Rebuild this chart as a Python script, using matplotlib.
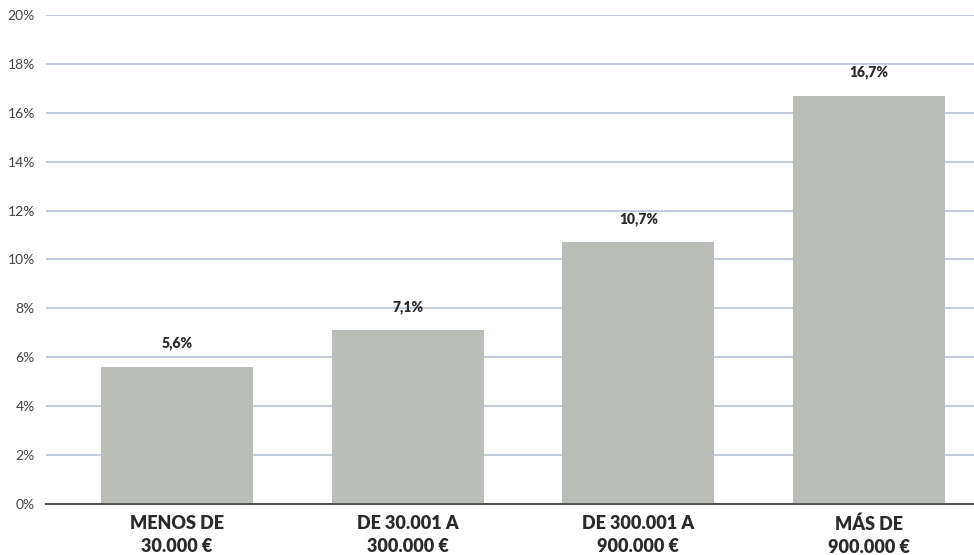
import matplotlib.pyplot as plt

categories = ["MENOS DE\n30.000 €", "DE 30.001 A\n300.000 €", "DE 300.001 A\n900.000 €", "MÁS DE\n900.000 €"]
values = [5.6, 7.1, 10.7, 16.7]
value_labels = ["5,6%", "7,1%", "10,7%", "16,7%"]
yticks = [0, 2, 4, 6, 8, 10, 12, 14, 16, 18, 20]

plt.rcParams["font.family"] = ["Lato", "DejaVu Sans"]

fig = plt.figure(figsize=(9.74, 5.55), dpi=100)
ax = fig.add_axes([0.0472, 0.0919, 0.9528, 0.8811])

x = list(range(len(categories)))
ax.bar(x, values, width=0.66, color="#b9bfb7", zorder=2)

for xi, v, lab in zip(x, values, value_labels):
    ax.annotate(lab, (xi, v), xytext=(0, 12), textcoords="offset points",
                ha="center", va="bottom", fontsize=10, fontweight="heavy", color="#2b2b2b")

ax.set_xlim(-0.568, 3.455)
ax.set_ylim(0, 20)
ax.set_yticks(yticks)
ax.set_yticklabels([f"{t}%" for t in yticks])
ax.set_xticks(x)
ax.set_xticklabels(categories, fontsize=13, fontweight="heavy", color="#2b2b2b", linespacing=1.45)

ax.grid(axis="y", color="#b8c3d5", linewidth=1.2, zorder=0)
ax.set_axisbelow(True)
for s in ("top", "right", "left"):
    ax.spines[s].set_visible(False)
ax.spines["bottom"].set_color("#555555")
ax.spines["bottom"].set_linewidth(1.5)
ax.tick_params(axis="y", length=0, labelsize=10, labelcolor="#444444", pad=8)
ax.tick_params(axis="x", length=0, pad=8)

fig.savefig("out.png", dpi=100)
